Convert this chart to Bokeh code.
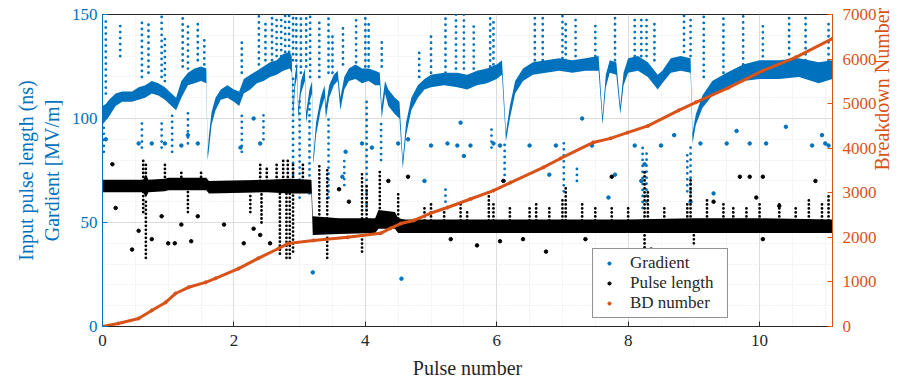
import math
from bokeh.plotting import figure
from bokeh.models import (Range1d, LinearAxis, Legend, LegendItem, Label,
                          SingleIntervalTicker, FixedTicker)
from bokeh.embed import file_html
from bokeh.resources import INLINE

# ---------------- data (x in units of 1e6 pulses) ----------------
# Gradient dense band (lower / upper edges, MV/m)
grad_x = [0.00, 0.05, 0.10, 0.20, 0.30, 0.45, 0.55, 0.65, 0.75, 0.85, 0.95, 1.05, 1.12, 1.20, 1.30, 1.40, 1.50, 1.58,
          1.60, 1.62, 1.66, 1.72, 1.80, 1.90, 2.00, 2.08, 2.15, 2.25, 2.35, 2.45, 2.55, 2.65, 2.75, 2.85, 2.88,
          2.90, 2.93, 2.96, 2.98, 3.02, 3.08, 3.10, 3.15, 3.19, 3.21, 3.25, 3.32, 3.38, 3.40, 3.45, 3.52, 3.58,
          3.62, 3.68, 3.75, 3.85, 3.95, 4.05, 4.15, 4.22, 4.25, 4.30, 4.35, 4.45, 4.52, 4.57, 4.62, 4.70, 4.80,
          4.90, 5.00, 5.20, 5.40, 5.55, 5.70, 5.85, 6.00, 6.08, 6.14, 6.20, 6.28, 6.40, 6.55, 6.75, 6.95, 7.15,
          7.35, 7.55, 7.61, 7.66, 7.72, 7.82, 7.88, 7.93, 8.00, 8.15, 8.30, 8.45, 8.52, 8.65, 8.80, 8.95, 8.98,
          9.03, 9.13, 9.28, 9.50, 9.75, 10.0, 10.3, 10.6, 10.9, 11.11]
grad_lo = [97, 99, 101, 106, 108, 108, 109, 110, 112, 111, 109, 106, 104, 110, 116, 117, 118, 117,
           80, 85, 97, 104, 109, 110, 108, 106, 112, 114, 117, 118, 120, 121, 123, 124, 122,
           100, 115, 120, 100, 112, 118, 98, 108, 112, 78, 92, 104, 110, 100, 110, 116, 118,
           104, 114, 118, 119, 117, 118, 116, 116, 100, 112, 106, 102, 100, 76, 92, 104, 110,
           114, 115, 116, 115, 114, 116, 117, 119, 121, 89, 100, 112, 118, 121, 122, 123, 122,
           123, 123, 97, 115, 122, 121, 102, 116, 122, 123, 120, 114, 117, 122, 123, 122, 88,
           97, 105, 111, 114, 118, 119, 119, 120, 117, 119]
grad_hi = [106, 107, 109, 112, 113, 113, 115, 116, 118, 117, 115, 112, 110, 118, 122, 124, 125, 124,
           84, 92, 103, 110, 114, 116, 114, 113, 119, 121, 123, 125, 127, 128, 131, 132, 130,
           106, 121, 127, 105, 118, 124, 103, 114, 118, 82, 98, 110, 116, 106, 116, 121, 123,
           110, 120, 124, 126, 124, 124, 123, 122, 106, 118, 114, 110, 108, 80, 98, 110, 116,
           119, 121, 122, 122, 121, 123, 124, 126, 128, 93, 106, 118, 124, 127, 128, 129, 128,
           129, 130, 101, 121, 128, 127, 106, 122, 129, 130, 127, 121, 123, 129, 130, 129, 93,
           102, 111, 118, 122, 126, 128, 128, 129, 127, 128]

# Gradient breakdown streaks (columns of scattered points)
gstreak_x = [0.05, 0.27, 0.60, 0.70, 0.90, 0.95, 1.22, 1.30, 1.45, 1.55, 2.12, 2.38, 2.48, 2.58, 2.65, 2.72,
             2.78, 2.84, 2.90, 2.95, 3.02, 3.10, 3.16, 3.30, 3.44, 3.50, 3.66, 3.86, 4.00, 4.05, 4.25, 4.82,
             5.00, 5.22, 5.38, 5.50, 5.65, 5.90, 5.95, 6.58, 6.70, 7.00, 7.05, 7.20, 7.50, 7.80, 8.10, 8.20,
             8.28, 8.40, 8.85, 8.95, 9.15, 9.45, 9.75, 10.05, 10.45, 10.70, 11.05,
             0.02, 0.60, 0.90, 1.06, 1.30, 2.12, 2.45, 2.90, 3.00, 3.15, 3.44, 3.68, 4.02, 4.24, 5.22, 5.92,
             6.12, 7.02, 7.22, 8.22, 8.28, 8.90, 8.95]
gstreak_lo = [112, 130, 120, 122, 120, 118, 125, 124, 128, 126, 122, 126, 128, 128, 130, 130,
              132, 132, 128, 125, 122, 125, 120, 120, 122, 122, 126, 127, 125, 125, 125, 120,
              122, 122, 124, 124, 124, 125, 126, 128, 128, 129, 128, 130, 130, 128, 130, 130,
              130, 128, 132, 130, 120, 122, 126, 127, 128, 128, 128,
              84, 86, 86, 84, 88, 84, 90, 70, 62, 64, 62, 68, 56, 80, 60, 86,
              70, 65, 70, 57, 60, 65, 60]
gstreak_hi = [148, 145, 148, 146, 150, 140, 150, 145, 148, 140, 138, 150, 146, 150, 150, 150,
              150, 150, 150, 150, 150, 150, 150, 148, 150, 142, 146, 150, 150, 148, 138, 134,
              140, 148, 150, 150, 145, 150, 148, 150, 150, 150, 146, 150, 146, 150, 150, 150,
              150, 146, 150, 150, 150, 148, 150, 146, 150, 150, 148,
              98, 100, 100, 102, 105, 104, 104, 120, 110, 110, 100, 80, 108, 100, 68, 96,
              90, 90, 78, 88, 85, 85, 88]

# Isolated gradient points
gpt_x = [0.05, 0.55, 0.75, 0.95, 1.20, 1.30, 1.45, 2.10, 2.40, 2.30, 3.20, 3.65, 3.70, 3.95, 4.10, 4.50, 4.55,
         4.65, 4.90, 5.00, 5.25, 5.40, 5.50, 5.60, 5.95, 6.05, 6.50, 6.80, 6.90, 7.30, 7.45, 7.70, 7.80, 8.10,
         8.50, 8.70, 8.95, 9.10, 9.30, 9.50, 9.65, 9.85, 10.1, 10.4, 10.8, 11.0, 11.05, 10.95, 8.20, 8.25, 5.45]
gpt_y = [90, 88, 88, 88, 87, 92, 88, 86, 88, 100, 26, 72, 84, 88, 86, 88, 23,
         90, 70, 87, 88, 87, 82, 87, 88, 87, 87, 73, 87, 100, 87, 62, 73, 87,
         87, 92, 60, 88, 64, 88, 94, 88, 88, 96, 87, 88, 87, 92, 70, 78, 98]

# Pulse length dense band (ns)
pl_x = [0.00, 0.62, 0.66, 0.70, 0.95, 1.00, 1.58, 1.62, 2.50, 2.85, 3.18, 3.20, 3.60, 4.15, 4.20, 4.45,
        4.50, 4.60, 6.00, 8.00, 9.00, 10.0, 11.11]
pl_lo = [64.5, 64.5, 62, 64.5, 65, 65.5, 65.5, 64, 64.5, 64, 64, 44, 44.5, 45, 47, 47,
         45, 45, 45, 45, 45, 45, 45]
pl_hi = [70.5, 70.5, 73, 70.5, 71, 71.5, 71.5, 70, 70.5, 71, 70.5, 53, 52, 52, 56, 55,
         52, 51.5, 51.5, 51.5, 52, 52, 51.5]

# Pulse length streaks
pstreak_x = [0.62, 0.66, 0.95, 1.20, 1.50, 2.40, 2.50, 2.65, 2.75, 2.82, 2.90, 3.05, 3.30, 3.42, 3.95, 4.02,
             4.22, 4.50, 4.90, 5.00, 5.20, 5.45, 5.55, 5.88, 5.95, 6.20, 6.50, 6.60, 6.80, 7.00, 7.05, 7.30,
             7.50, 7.75, 8.00, 8.25, 8.30, 8.55, 8.90, 8.95, 9.20, 9.45, 9.60, 9.80, 10.0, 10.3, 10.55,
             10.75, 10.95, 11.05,
             0.62, 0.66, 1.30, 2.25, 2.42, 2.70, 2.80, 2.85, 2.90, 3.42, 3.95, 8.25, 9.00]
pstreak_lo = [70, 70, 70, 70, 70, 70, 70, 70, 70, 70, 70, 70, 52, 52, 52, 52,
              55, 52, 51, 51, 51, 51, 51, 51, 51, 51, 51, 51, 51, 51, 51, 51,
              51, 51, 51, 51, 51, 51, 51, 51, 51, 51, 51, 51, 51, 51, 51,
              51, 51, 51,
              55, 33, 55, 55, 50, 35, 33, 33, 36, 33, 36, 38, 40]
pstreak_hi = [80, 78, 78, 75, 74, 78, 77, 78, 80, 80, 79, 78, 78, 76, 75, 68,
              76, 65, 58, 60, 58, 59, 56, 65, 60, 58, 57, 59, 58, 62, 68, 59,
              58, 57, 58, 75, 66, 58, 60, 72, 62, 60, 57, 58, 59, 60, 58,
              62, 60, 64,
              65, 60, 65, 64, 64, 64, 64, 64, 64, 44, 44, 45, 45]

# Isolated pulse length points
ppt_x = [0.15, 0.20, 0.45, 0.55, 0.75, 0.90, 1.00, 1.10, 1.20, 1.35, 1.45, 1.85, 2.15, 2.30, 2.40, 2.55,
         3.60, 3.75, 4.35, 4.65, 5.30, 5.70, 6.05, 6.10, 6.40, 6.75, 7.35, 7.75, 8.35, 9.70, 9.85, 10.05,
         10.05, 10.85, 9.30, 9.95, 10.3]
ppt_y = [78, 57, 37, 46, 42, 53, 40, 40, 49, 41, 53, 49, 40, 47, 44, 40,
         66, 60, 70, 72, 42, 39, 41, 70, 42, 36, 42, 72, 37, 72, 72, 72,
         42, 70, 60, 62, 58]

# Breakdown number (cumulative)
bd_x = [0.00, 0.24, 0.55, 0.75, 0.96, 1.11, 1.31, 1.57, 1.72, 2.07, 2.37, 2.68, 2.82, 3.21, 3.73, 4.23,
        4.38, 4.54, 4.74, 4.99, 5.25, 5.60, 5.95, 6.21, 6.71, 6.97, 7.47, 7.73, 7.99, 8.30, 8.77, 9.03,
        9.53, 10.05, 10.55, 11.11]
bd_n = [0, 67, 180, 360, 540, 740, 880, 990, 1080, 1300, 1530, 1750, 1860, 1930, 2000, 2090,
        2200, 2310, 2380, 2540, 2670, 2860, 3050, 3230, 3570, 3770, 4130, 4220, 4350, 4500, 4850, 5030,
        5360, 5740, 6040, 6460]

# ---------------- styling ----------------
BLUE = "#0072BD"
ORANGE = "#D95319"
DARK = "#262626"
FONT = "Liberation Serif"

p = figure(width=914, height=384, output_backend="svg", toolbar_location=None,
           x_range=Range1d(0, 11.11), y_range=Range1d(0, 150),
           min_border_left=102, min_border_right=82, min_border_top=14, min_border_bottom=58)
p.extra_y_ranges = {"bd": Range1d(0, 7000)}
p.outline_line_color = DARK
p.outline_line_width = 1
p.background_fill_color = "white"
p.border_fill_color = "white"

# grids
for g in (p.xgrid[0], p.ygrid[0]):
    g.grid_line_color = "#dcdcdc"
    g.grid_line_width = 1
    g.minor_grid_line_color = "#e4e4e4"
    g.minor_grid_line_dash = "1 2"

# axes
xa = p.xaxis[0]
xa.ticker = SingleIntervalTicker(interval=2, num_minor_ticks=4)
xa.axis_label = "Pulse number"
ya = p.yaxis[0]
ya.ticker = SingleIntervalTicker(interval=50, num_minor_ticks=5)
ya.axis_label = "Input pulse length (ns)\nGardient [MV/m]"

ra = LinearAxis(y_range_name="bd", ticker=SingleIntervalTicker(interval=1000))
p.add_layout(ra, "right")

for ax, col in ((xa, DARK), (ya, BLUE), (ra, ORANGE)):
    ax.axis_line_color = col
    ax.major_tick_line_color = col
    ax.major_tick_in = 5
    ax.major_tick_out = 0
    ax.minor_tick_in = 0
    ax.minor_tick_out = 0
    ax.major_label_text_color = col
    ax.major_label_text_font = FONT
    ax.major_label_text_font_size = "17px"
    ax.axis_label_text_color = col
    ax.axis_label_text_font = FONT
    ax.axis_label_text_font_size = "20px"
    ax.axis_label_text_font_style = "normal"
xa.major_label_standoff = 8
xa.axis_label_standoff = 8
ya.major_label_standoff = 5
ya.axis_label_standoff = 6
ra.major_label_standoff = 10

# label-only axis for the right-hand title, bounded so the upward-reading text is centred
ra_label = LinearAxis(y_range_name="bd", bounds=(0, 3725), ticker=FixedTicker(ticks=[]),
                      axis_label="Breakdown Number")
ra_label.axis_label_orientation = math.pi / 2
ra_label.axis_line_color = None
ra_label.major_tick_line_color = None
ra_label.minor_tick_line_color = None
ra_label.axis_label_text_color = ORANGE
ra_label.axis_label_text_font = FONT
ra_label.axis_label_text_font_size = "20px"
ra_label.axis_label_text_font_style = "normal"
ra_label.axis_label_standoff = 2
p.add_layout(ra_label, "right")

# ---------------- glyphs ----------------
p.varea(x=grad_x, y1=grad_lo, y2=grad_hi, fill_color=BLUE)
p.segment(x0=gstreak_x, y0=gstreak_lo, x1=gstreak_x, y1=gstreak_hi,
          line_color=BLUE, line_width=2.8, line_dash="0 6", line_cap="round")
r_grad = p.scatter(x=gpt_x, y=gpt_y, size=3.5, color=BLUE)

p.varea(x=pl_x, y1=pl_lo, y2=pl_hi, fill_color="black")
p.segment(x0=pstreak_x, y0=pstreak_lo, x1=pstreak_x, y1=pstreak_hi,
          line_color="black", line_width=2.8, line_dash="0 4", line_cap="round")
r_pl = p.scatter(x=ppt_x, y=ppt_y, size=3.5, color="black")

p.line(x=bd_x, y=bd_n, y_range_name="bd", line_color=ORANGE, line_width=3)
r_bd = p.scatter(x=bd_x, y=bd_n, y_range_name="bd", size=3, color=ORANGE)

legend = Legend(items=[LegendItem(label="Gradient", renderers=[r_grad]),
                       LegendItem(label="Pulse length", renderers=[r_pl]),
                       LegendItem(label="BD number", renderers=[r_bd])],
                location=(490, 8))
legend.label_text_font = FONT
legend.label_text_font_size = "17px"
legend.label_text_color = DARK
legend.glyph_width = 24
legend.glyph_height = 8
legend.label_height = 17
legend.label_width = 93
legend.label_standoff = 9
legend.spacing = 0
legend.padding = 4
legend.margin = 0
legend.border_line_color = DARK
legend.border_line_width = 1
legend.background_fill_alpha = 1
p.add_layout(legend, "center")

p.add_layout(Label(x=11.11, y=-24, text="×10⁶", text_align="right",
                   text_font=FONT, text_font_size="17px", text_color=DARK))

open("out.html", "w").write(file_html(p, INLINE))
